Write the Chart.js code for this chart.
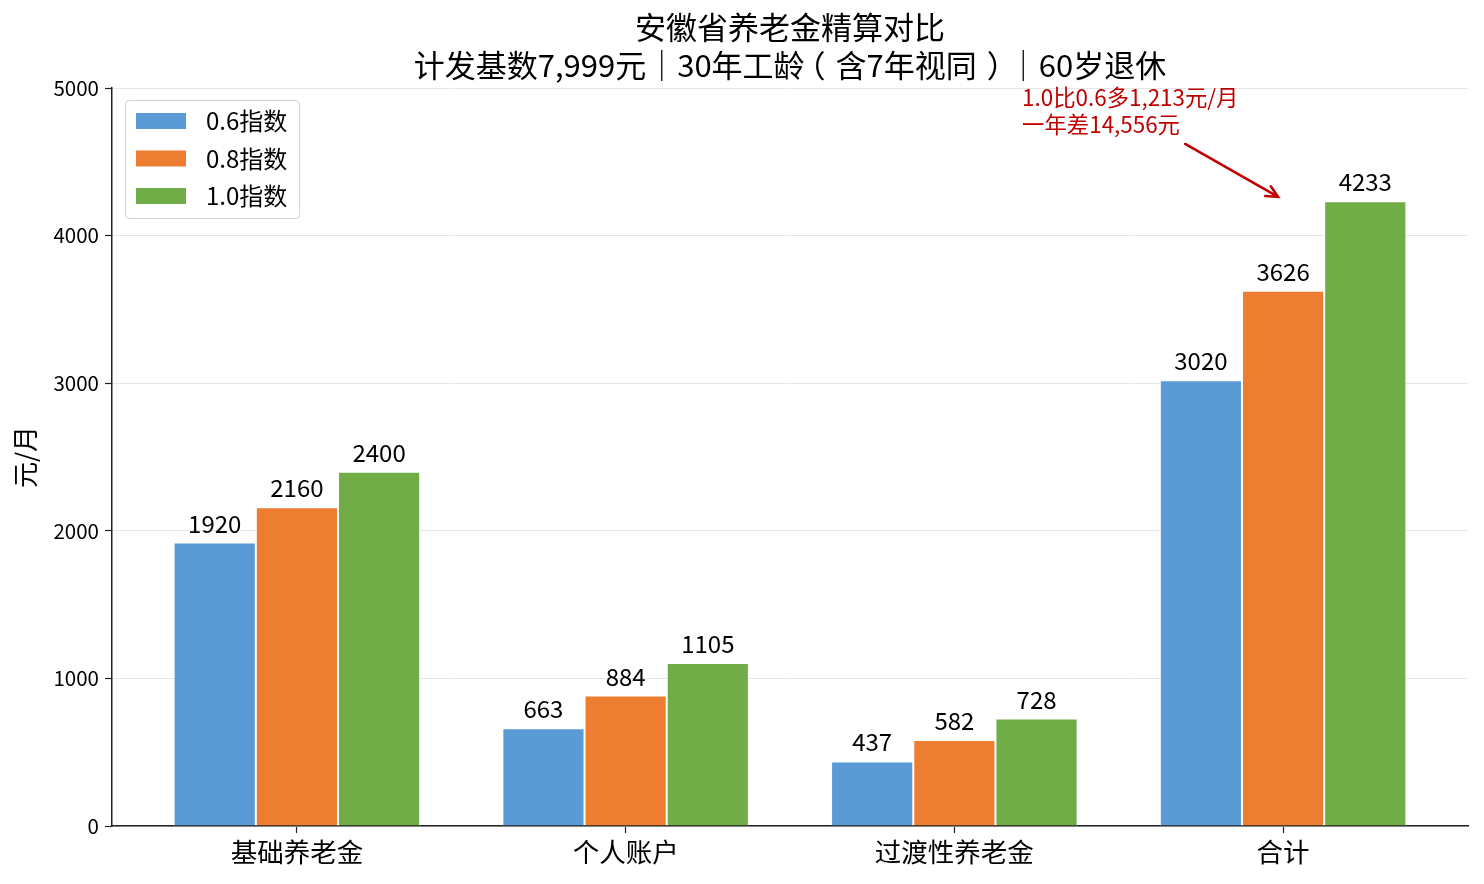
<!DOCTYPE html>
<html><head><meta charset="utf-8">
<script src="https://cdn.jsdelivr.net/npm/chart.js@4/dist/chart.umd.min.js"></script>
<style>html,body{margin:0;padding:0;background:#fff}#wrap{width:1484px;height:884px;position:relative}</style>
</head><body><div id="wrap"><canvas id="c" width="1484" height="884"></canvas></div>
<script>
const categories = ['基础养老金', '个人账户', '过渡性养老金', '合计'];
const seriesLabels = ['0.6指数', '0.8指数', '1.0指数'];
const values06 = [1920, 663, 437, 3020];
const values08 = [2160, 884, 582, 3626];
const values10 = [2400, 1105, 728, 4233];
const yTicks = [0, 1000, 2000, 3000, 4000, 5000];
const titleLines = ['安徽省养老金精算对比', '计发基数7,999元｜30年工龄（含7年视同）｜60岁退休'];
const yAxisTitle = '元/月';
const noteLines = ['1.0比0.6多1,213元/月', '一年差14,556元'];
// annotation anchors in data units
const noteText = {x: 2.206, y: 4939};
const arrowFrom = {x: 2.702, y: 4621};
const arrowTo = {x: 2.985, y: 4262};

const colors = ['#5B9BD5', '#ED7D31', '#70AD47'];
const FONT = "'Noto Sans CJK SC', 'Noto Sans', sans-serif";
const seriesValues = [values06, values08, values10];

// draw text glyph by glyph; full-width punctuation is centred (by ink) in its em box
function drawFullWidth(ctx, text, cx, y) {
  const chars = Array.from(text);
  const widths = chars.map(c => ctx.measureText(c).width);
  const total = widths.reduce((a, b) => a + b, 0);
  let x = cx - total / 2;
  ctx.textAlign = 'left';
  chars.forEach((c, i) => {
    if (/[（）｜]/.test(c)) {
      const m = ctx.measureText(c);
      const inkMid = (m.actualBoundingBoxRight - m.actualBoundingBoxLeft) / 2;
      ctx.fillText(c, x + widths[i] / 2 - inkMid, y);
    } else {
      ctx.fillText(c, x, y);
    }
    x += widths[i];
  });
}

const overlay = {
  id: 'overlay',
  afterDatasetsDraw(chart) {
    const ctx = chart.ctx;
    const ca = chart.chartArea;
    const xs = chart.scales.x, ys = chart.scales.y;
    ctx.save();
    // data labels
    ctx.fillStyle = '#000';
    ctx.font = '24px ' + FONT;
    ctx.textAlign = 'center';
    ctx.textBaseline = 'alphabetic';
    chart.data.datasets.forEach((ds, di) => {
      chart.getDatasetMeta(di).data.forEach((bar, i) => {
        ctx.fillText(String(ds.data[i].y), bar.x, bar.y - 10);
      });
    });
    // title
    ctx.textBaseline = 'middle';
    ctx.font = '31px ' + FONT;
    const cx = (ca.left + ca.right) / 2;
    ctx.textAlign = 'center';
    ctx.fillText(titleLines[0], cx, 27);
    drawFullWidth(ctx, titleLines[1], cx, 65);
    // legend
    const lx = ca.left + 13, ly = ca.top + 12, lw = 174, lh = 118;
    ctx.beginPath();
    ctx.roundRect(lx + 0.5, ly + 0.5, lw, lh, 4);
    ctx.fillStyle = 'rgba(255,255,255,0.85)';
    ctx.fill();
    ctx.strokeStyle = '#d0d0d0';
    ctx.lineWidth = 1;
    ctx.stroke();
    ctx.font = '24px ' + FONT;
    ctx.textAlign = 'left';
    chart.data.datasets.forEach((ds, di) => {
      const ry = ly + 21 + di * 37.5;
      ctx.fillStyle = ds.backgroundColor;
      ctx.fillRect(lx + 11, ry - 8, 50, 16);
      ctx.fillStyle = '#000';
      ctx.fillText(ds.label, lx + 81, ry);
    });
    // annotation
    const red = '#C00000';
    ctx.fillStyle = red;
    ctx.font = '22.4px ' + FONT;
    const tx = xs.getPixelForValue(noteText.x), ty = ys.getPixelForValue(noteText.y);
    ctx.fillText(noteLines[0], tx, ty);
    ctx.fillText(noteLines[1], tx, ty + 27);
    const x1 = xs.getPixelForValue(arrowFrom.x), y1 = ys.getPixelForValue(arrowFrom.y);
    const x2 = xs.getPixelForValue(arrowTo.x), y2 = ys.getPixelForValue(arrowTo.y);
    ctx.strokeStyle = red;
    ctx.lineWidth = 2.5;
    ctx.lineCap = 'round';
    ctx.beginPath();
    ctx.moveTo(x1, y1); ctx.lineTo(x2, y2);
    const ang = Math.atan2(y2 - y1, x2 - x1);
    const hl = 13, ha = 0.45;
    ctx.moveTo(x2 - hl * Math.cos(ang - ha), y2 - hl * Math.sin(ang - ha));
    ctx.lineTo(x2, y2);
    ctx.lineTo(x2 - hl * Math.cos(ang + ha), y2 - hl * Math.sin(ang + ha));
    ctx.stroke();
    ctx.restore();
  }
};

new Chart(document.getElementById('c'), {
  type: 'bar',
  data: {
    datasets: seriesValues.map((v, i) => ({
      label: seriesLabels[i],
      data: v.map((y, x) => ({x, y})),
      backgroundColor: colors[i],
      borderColor: '#ffffff',
      borderWidth: 1,
      categoryPercentage: 0.75,
      barPercentage: 1
    }))
  },
  options: {
    responsive: false,
    animation: false,
    layout: {padding: {left: 0, right: 16, top: 88, bottom: 0}},
    plugins: {legend: {display: false}, title: {display: false}, tooltip: {enabled: false}},
    scales: {
      x: {
        type: 'linear', min: -0.5625, max: 3.5625, offset: false,
        afterBuildTicks: s => { s.ticks = categories.map((_, i) => ({value: i})); },
        ticks: {callback: v => categories[v], font: {size: 26.5, family: FONT}, color: '#000', padding: 3, autoSkip: false, maxRotation: 0},
        grid: {display: true, offset: false, drawOnChartArea: false, drawTicks: true, tickLength: 7, color: '#222', tickWidth: 1.2},
        border: {display: true, color: '#222', width: 1.5},
        afterFit: s => { s.height = 58; }
      },
      y: {
        min: 0, max: 5000,
        afterBuildTicks: s => { s.ticks = yTicks.map(v => ({value: v})); },
        ticks: {callback: v => String(v), font: {size: 20.5, family: FONT}, color: '#000', padding: 6},
        grid: {color: '#e6e6e6', tickColor: '#222', tickLength: 7, lineWidth: 1, tickWidth: 1.2},
        border: {display: true, color: '#222', width: 1.5},
        title: {display: true, text: yAxisTitle, font: {size: 26, family: FONT}, color: '#000', padding: {top: 10, bottom: 0}},
        afterFit: s => { s.width = 112; }
      }
    }
  },
  plugins: [overlay]
});
</script></body></html>
